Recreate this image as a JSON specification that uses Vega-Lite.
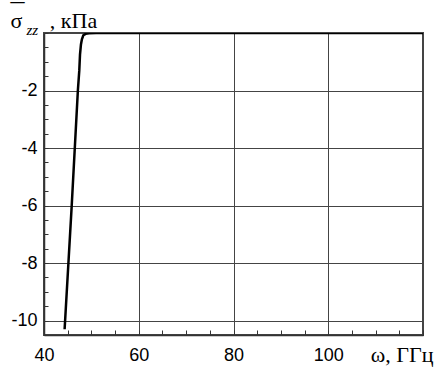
{
  "$schema": "https://vega.github.io/schema/vega-lite/v6.json",
  "width": 379,
  "height": 302,
  "autosize": "none",
  "padding": {"left": 44, "top": 33, "right": 13, "bottom": 32},
  "background": "white",
  "config": {
    "view": {"stroke": "#444", "strokeWidth": 2}
  },
  "data": {
    "values": [
      {"omega": 44.35, "sigma": -10.3},
      {"omega": 45.85, "sigma": -6.0},
      {"omega": 47.15, "sigma": -2.0},
      {"omega": 47.45, "sigma": -1.3},
      {"omega": 47.6, "sigma": -0.75},
      {"omega": 47.8, "sigma": -0.4},
      {"omega": 48.0, "sigma": -0.22},
      {"omega": 48.3, "sigma": -0.08},
      {"omega": 48.8, "sigma": -0.03},
      {"omega": 49.5, "sigma": -0.01},
      {"omega": 51.0, "sigma": 0.0},
      {"omega": 120.0, "sigma": 0.0}
    ]
  },
  "resolve": {"axis": {"x": "independent", "y": "independent"}},
  "layer": [
    {
      "mark": {"type": "line", "color": "black", "strokeWidth": 2.5, "clip": true},
      "encoding": {
        "x": {
          "field": "omega",
          "type": "quantitative",
          "scale": {"domain": [40, 120], "nice": false, "zero": false},
          "axis": {
            "orient": "bottom",
            "values": [40, 45, 50, 55, 60, 65, 70, 75, 80, 85, 90, 95, 100, 105, 110, 115, 120],
            "grid": true,
            "gridColor": "#444",
            "gridWidth": 1,
            "gridOpacity": {"condition": {"test": "datum.value % 20 === 0 && datum.value > 40 && datum.value < 120", "value": 1}, "value": 0},
            "labelExpr": "datum.value % 20 === 0 && datum.value < 120 ? datum.label : ''",
            "labelFlush": false,
            "labelOverlap": false,
            "labelFont": "Liberation Sans",
            "labelFontSize": 18,
            "labelColor": "black",
            "labelPadding": 16,
            "tickSize": -5,
            "tickColor": "#333",
            "domainColor": "#333",
            "domainWidth": 1.5,
            "title": "ω, ГГц",
            "titleFont": "Liberation Serif",
            "titleFontSize": 22,
            "titleFontWeight": "normal",
            "titleColor": "black",
            "titleAlign": "right",
            "titleBaseline": "alphabetic",
            "titleX": 389,
            "titleY": 26
          }
        },
        "y": {
          "field": "sigma",
          "type": "quantitative",
          "scale": {"domain": [-10.5, 0], "nice": false, "zero": false},
          "axis": {
            "orient": "left",
            "values": [-10.5, -10, -9.5, -9, -8.5, -8, -7.5, -7, -6.5, -6, -5.5, -5, -4.5, -4, -3.5, -3, -2.5, -2, -1.5, -1, -0.5, 0],
            "grid": true,
            "gridColor": "#444",
            "gridWidth": 1,
            "gridOpacity": {"condition": {"test": "datum.value % 2 === 0 && datum.value < 0", "value": 1}, "value": 0},
            "labelExpr": "datum.value % 2 === 0 && datum.value < 0 ? toString(datum.value) : ''",
            "labelOverlap": false,
            "labelFlush": false,
            "labelFont": "Liberation Sans",
            "labelFontSize": 18,
            "labelColor": "black",
            "labelPadding": 11,
            "tickSize": -4,
            "tickColor": "#333",
            "domainColor": "#333",
            "domainWidth": 1.5,
            "title": "σ\u00a0\u00a0\u00a0\u00a0\u00a0, кПа",
            "titleFont": "Liberation Serif",
            "titleFontSize": 22,
            "titleFontWeight": "normal",
            "titleColor": "black",
            "titleAngle": 0,
            "titleAlign": "left",
            "titleBaseline": "alphabetic",
            "titleX": -34,
            "titleY": -6
          }
        }
      }
    },
    {
      "mark": {"type": "line", "opacity": 0},
      "encoding": {
        "x": {
          "field": "omega",
          "type": "quantitative",
          "axis": {
            "orient": "top",
            "domain": false,
            "ticks": false,
            "labels": false,
            "grid": false,
            "title": "zz",
            "titleFont": "Liberation Serif",
            "titleFontSize": 15,
            "titleFontStyle": "italic",
            "titleFontWeight": "normal",
            "titleColor": "black",
            "titleAlign": "left",
            "titleBaseline": "alphabetic",
            "titleX": -18,
            "titleY": 1
          }
        },
        "y": {
          "field": "sigma",
          "type": "quantitative",
          "axis": {
            "orient": "right",
            "domain": false,
            "ticks": false,
            "labels": false,
            "grid": false,
            "title": "_",
            "titleFont": "Liberation Serif",
            "titleFontSize": 28,
            "titleFontWeight": "normal",
            "titleColor": "black",
            "titleAngle": 0,
            "titleAlign": "left",
            "titleBaseline": "alphabetic",
            "titleX": -413,
            "titleY": -34
          }
        }
      }
    }
  ]
}
